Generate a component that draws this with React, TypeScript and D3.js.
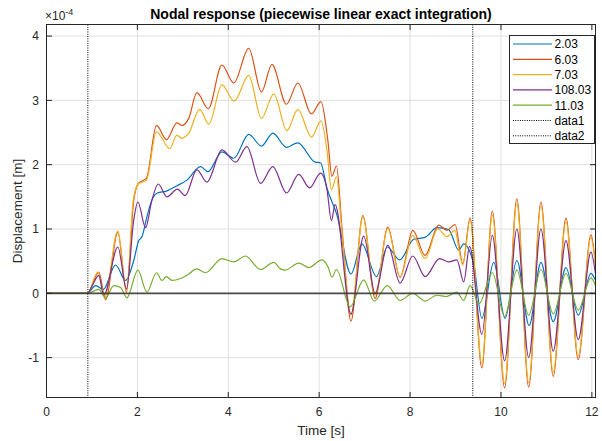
import React from "react";
import * as d3 from "d3";

const W = 602;
const H = 441;

const xDomain: [number, number] = [0, 12.08];
const yDomain: [number, number] = [-1.62, 4.18];
const xTicks = [0, 2, 4, 6, 8, 10, 12];
const yTicks = [-1, 0, 1, 2, 3, 4];
const markerTimes = [0.91, 9.38];
const markerNames = ["data1", "data2"];

const seriesNames = ["2.03", "6.03", "7.03", "108.03", "11.03"];
const seriesColors = ["#0072BD", "#D95319", "#EDB120", "#7E2F8E", "#77AC30"];

// displacement values in units of 1e-4 m, [time s, value]
const s203: [number, number][] = [
  [0, 0], [0.9, 0], [1.08, 0.12], [1.25, 0.06], [1.52, 0.44], [1.74, 0.2], [1.92, 0.51], [2.03, 0.82],
  [2.1, 0.88], [2.21, 1.19], [2.32, 1.45], [2.44, 1.56], [2.64, 1.59], [2.86, 1.67], [3.09, 1.76],
  [3.39, 1.97], [3.55, 1.89], [3.86, 2.2], [4.12, 2.1], [4.45, 2.47], [4.73, 2.29], [4.98, 2.49],
  [5.28, 2.27], [5.53, 2.34], [5.91, 2.04], [6.03, 2.03], [6.17, 1.64], [6.39, 1.22], [6.7, 0.3],
  [6.94, 0.77], [7.26, 0.26], [7.5, 0.72], [7.77, 0.52], [8.08, 0.84], [8.33, 0.87], [8.59, 1.02],
  [8.85, 0.99], [9.07, 0.67], [9.18, 0.77], [9.4, 0.45], [9.58, -0.39], [9.84, 0.48], [10.09, -0.39],
  [10.35, 0.51], [10.62, -0.5], [10.88, 0.48], [11.15, -0.44], [11.43, 0.4], [11.7, -0.34],
  [11.98, 0.31], [12.08, 0.2],
];
const s603: [number, number][] = [
  [0, 0], [0.9, 0], [1.15, 0.33], [1.3, -0.1], [1.57, 0.95], [1.76, 0.02], [1.92, 1.45], [2.02, 1.71],
  [2.2, 1.79], [2.42, 2.61], [2.64, 2.39], [2.87, 2.65], [2.98, 2.61], [3.13, 2.72], [3.31, 3.12],
  [3.56, 2.87], [3.86, 3.55], [4.12, 3.27], [4.45, 3.81], [4.73, 3.13], [4.96, 3.56], [5.28, 2.94],
  [5.53, 3.27], [5.83, 2.79], [6.04, 2.98], [6.19, 2.38], [6.28, 1.82], [6.38, 1.98], [6.5, 1.03],
  [6.7, -0.43], [6.96, 1.21], [7.23, -0.08], [7.51, 1.03], [7.78, 0.25], [8.06, 0.98], [8.33, 0.59],
  [8.63, 1.06], [8.81, 0.98], [8.99, 1.07], [9.16, 0.46], [9.32, 1.17], [9.58, -1.16], [9.81, 1.28],
  [10.08, -1.47], [10.35, 1.47], [10.61, -1.46], [10.88, 1.42], [11.15, -1.29], [11.43, 1.17],
  [11.7, -1.03], [11.98, 0.91], [12.08, 0.45],
];
const s703: [number, number][] = [
  [0, 0], [0.9, 0], [1.13, 0.33], [1.28, -0.06], [1.57, 0.97], [1.76, 0.05], [1.91, 1.45], [2.02, 1.7],
  [2.2, 1.76], [2.42, 2.51], [2.71, 2.25], [2.87, 2.46], [2.97, 2.41], [3.13, 2.49], [3.37, 2.86],
  [3.57, 2.63], [3.86, 3.24], [4.13, 2.99], [4.45, 3.39], [4.73, 2.72], [5.0, 3.1], [5.29, 2.53],
  [5.53, 2.86], [5.83, 2.43], [6.04, 2.68], [6.17, 2.23], [6.27, 1.61], [6.38, 1.81], [6.5, 0.95],
  [6.7, -0.34], [6.96, 1.19], [7.23, -0.03], [7.51, 1.01], [7.78, 0.25], [8.06, 0.9], [8.33, 0.54],
  [8.61, 1.0], [8.81, 0.88], [8.98, 0.98], [9.16, 0.44], [9.32, 1.14], [9.58, -1.1], [9.81, 1.22],
  [10.08, -1.4], [10.35, 1.4], [10.61, -1.39], [10.88, 1.36], [11.15, -1.23], [11.43, 1.12],
  [11.7, -0.98], [11.98, 0.87], [12.08, 0.43],
];
const s10803: [number, number][] = [
  [0, 0], [0.9, 0], [1.0, 0.11], [1.15, 0.28], [1.26, -0.03], [1.57, 0.72], [1.76, 0.07], [1.92, 1.14],
  [2.01, 1.42], [2.18, 1.02], [2.32, 1.45], [2.46, 1.7], [2.65, 1.5], [2.88, 1.62], [3.05, 1.52],
  [3.31, 1.92], [3.53, 1.73], [3.86, 2.23], [4.16, 2.04], [4.41, 2.28], [4.71, 1.71], [4.98, 1.97],
  [5.28, 1.56], [5.55, 1.85], [5.79, 1.64], [6.03, 1.87], [6.17, 1.62], [6.27, 1.13], [6.35, 1.38],
  [6.7, -0.32], [6.98, 0.89], [7.23, 0.0], [7.51, 0.75], [7.78, 0.16], [8.06, 0.58], [8.33, 0.26],
  [8.65, 0.54], [8.85, 0.49], [9.03, 0.52], [9.18, 0.18], [9.31, 0.73], [9.58, -0.64], [9.81, 0.9],
  [10.08, -1.05], [10.35, 1.0], [10.61, -1.0], [10.88, 1.0], [11.15, -0.9], [11.43, 0.82],
  [11.7, -0.72], [11.98, 0.64], [12.08, 0.3],
];
const s1103: [number, number][] = [
  [0, 0], [0.9, 0], [1.15, 0.06], [1.3, -0.07], [1.48, 0.12], [1.63, 0.09], [1.77, -0.07], [2.01, 0.36],
  [2.21, 0.02], [2.42, 0.32], [2.54, 0.2], [2.64, 0.26], [2.76, 0.2], [2.95, 0.23], [3.13, 0.3],
  [3.3, 0.38], [3.5, 0.32], [3.86, 0.54], [4.12, 0.49], [4.38, 0.58], [4.71, 0.37], [5.0, 0.48],
  [5.15, 0.38], [5.25, 0.36], [5.55, 0.47], [5.77, 0.4], [6.06, 0.52], [6.2, 0.4], [6.28, 0.25],
  [6.38, 0.37], [6.68, -0.21], [6.98, 0.21], [7.21, -0.12], [7.5, 0.12], [7.78, -0.11], [8.06, 0.0],
  [8.33, -0.12], [8.59, -0.03], [8.8, -0.05], [9.03, 0.02], [9.18, -0.11], [9.32, 0.12], [9.52, -0.16],
  [9.81, 0.32], [10.08, -0.36], [10.35, 0.36], [10.61, -0.34], [10.88, 0.37], [11.15, -0.32],
  [11.43, 0.31], [11.7, -0.26], [11.98, 0.24], [12.08, 0.12],
];

const seriesData = [s203, s603, s703, s10803, s1103];

const FONT = "'Liberation Sans', Arial, Helvetica, sans-serif";
const AX = "#262626";

export default function App() {
  const left = 46.5, right = 595.5, top = 24.5, bottom = 397.5;
  const x = d3.scaleLinear().domain(xDomain).range([left, right]);
  const y = d3.scaleLinear().domain(yDomain).range([bottom, top]);
  const line = d3
    .line<[number, number]>()
    .x((d) => x(d[0]))
    .y((d) => y(d[1]))
    .curve(d3.curveMonotoneX);
  const tickLen = 5.5;

  const legendX = 509.5, legendY = 35.5, legendW = 85, legendH = 108;
  const rowY = (i: number) => 44 + i * 15.3;
  const legendItems = [
    ...seriesNames.map((n, i) => ({ name: n, color: seriesColors[i], dash: undefined as string | undefined })),
    ...markerNames.map((n) => ({ name: n, color: "#000", dash: "1 1.3" })),
  ];

  return (
    <svg width={W} height={H} style={{ position: "absolute", left: 0, top: 0, background: "#fff" }} fontFamily={FONT}>
      <rect x={0} y={0} width={W} height={H} fill="#fff" />
      {/* grid */}
      <g stroke="#dfdfdf" strokeWidth={1}>
        {xTicks.map((t) => (
          <line key={"gx" + t} x1={x(t)} x2={x(t)} y1={top} y2={bottom} />
        ))}
        {yTicks.map((t) => (
          <line key={"gy" + t} x1={left} x2={right} y1={y(t)} y2={y(t)} />
        ))}
      </g>
      {/* series */}
      <g fill="none" strokeWidth={1.2} strokeLinejoin="round">
        {seriesData.map((s, i) => (
          <path key={seriesNames[i]} d={line(s) || ""} stroke={seriesColors[i]} />
        ))}
      </g>
      {/* zero line */}
      <line x1={left} x2={right} y1={y(0)} y2={y(0)} stroke="#3a3a3a" strokeWidth={1.8} opacity={0.9} />
      {/* markers */}
      {markerTimes.map((t, i) => (
        <line key={markerNames[i]} x1={x(t)} x2={x(t)} y1={top} y2={bottom} stroke="#000" strokeWidth={1} strokeDasharray="1 1.3" />
      ))}
      {/* axes box */}
      <g stroke={AX} strokeWidth={1} fill="none">
        <rect x={left} y={top} width={right - left} height={bottom - top} />
        {xTicks.map((t) => (
          <g key={"tx" + t}>
            <line x1={x(t)} x2={x(t)} y1={bottom} y2={bottom - tickLen} />
            <line x1={x(t)} x2={x(t)} y1={top} y2={top + tickLen} />
          </g>
        ))}
        {yTicks.map((t) => (
          <g key={"ty" + t}>
            <line x1={left} x2={left + tickLen} y1={y(t)} y2={y(t)} />
            <line x1={right} x2={right - tickLen} y1={y(t)} y2={y(t)} />
          </g>
        ))}
      </g>
      {/* tick labels */}
      <g fill={AX} fontSize={12}>
        {xTicks.map((t) => (
          <text key={"lx" + t} x={x(t)} y={416} textAnchor="middle">
            {t}
          </text>
        ))}
        {yTicks.map((t) => (
          <text key={"ly" + t} x={39} y={y(t) + 4.3} textAnchor="end">
            {t}
          </text>
        ))}
      </g>
      {/* exponent */}
      <text x={45} y={20} fill={AX} fontSize={12}>
        ×10
        <tspan dy={-5} fontSize={9}>-4</tspan>
      </text>
      {/* title */}
      <text x={(left + right) / 2} y={18.5} textAnchor="middle" fontWeight="bold" fontSize={14} fill="#000">
        Nodal response (piecewise linear exact integration)
      </text>
      {/* axis labels */}
      <text x={(left + right) / 2} y={435} textAnchor="middle" fontSize={13.5} fill={AX}>
        Time [s]
      </text>
      <text transform={`translate(22, ${(top + bottom) / 2}) rotate(-90)`} textAnchor="middle" fontSize={13.5} fill={AX}>
        Displacement [m]
      </text>
      {/* legend */}
      <rect x={legendX} y={legendY} width={legendW} height={legendH} fill="#fff" stroke={AX} strokeWidth={1} />
      {legendItems.map((it, i) => (
        <g key={"lg" + it.name}>
          <line x1={513} x2={552} y1={rowY(i)} y2={rowY(i)} stroke={it.color} strokeWidth={it.dash ? 1 : 1.2} strokeDasharray={it.dash} />
          <text x={554.5} y={rowY(i) + 4.3} fontSize={12} fill="#000">
            {it.name}
          </text>
        </g>
      ))}
    </svg>
  );
}
